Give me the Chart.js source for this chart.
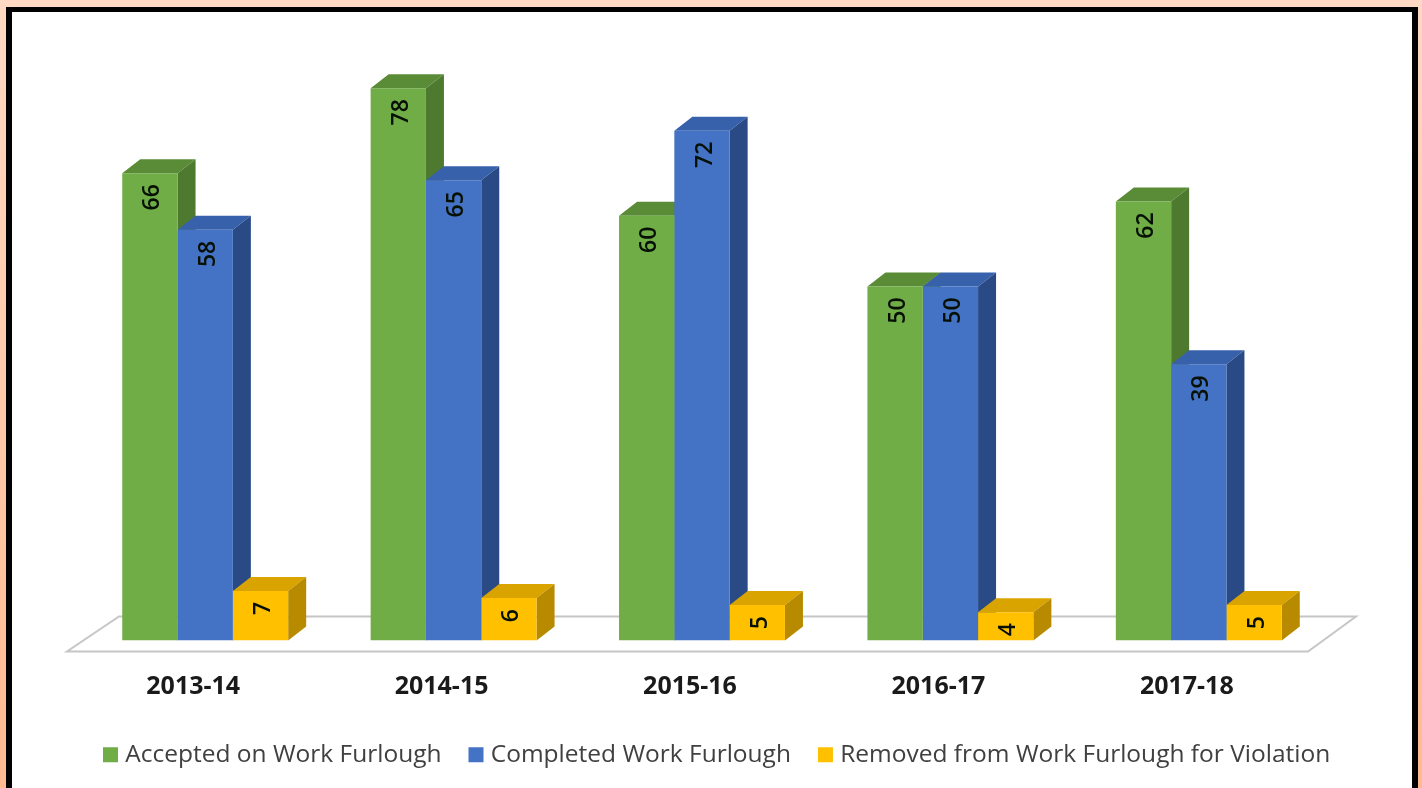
<!DOCTYPE html>
<html>
<head>
<meta charset="utf-8">
<title>Work Furlough</title>
<script src="https://cdn.jsdelivr.net/npm/chart.js@4"></script>
<style>
    html, body { margin: 0; height: 100%; overflow: hidden; }
    body { background: linear-gradient(#ffd9c4, #ffba90); }
    #frame {
        position: absolute; left: 6px; top: 7px; width: 1400px; height: 781px;
        background: #fff; border: solid #000; border-width: 5px 6px 0 6px;
    }
    #chart { position: absolute; left: 0; top: 0; filter: blur(0.5px); }
</style>
</head>
<body>
<div id="frame"></div>
<canvas id="chart" width="1422" height="788"></canvas>
<script>
const years = ['2013-14', '2014-15', '2015-16', '2016-17', '2017-18'];
const accepted = [66, 78, 60, 50, 62];
const completed = [58, 65, 72, 50, 39];
const removed = [7, 6, 5, 4, 5];

// front, top and side face of each series
const faces = [
    { front: '#70ad47', top: '#5a8c38', side: '#4e7a30' },
    { front: '#4472c4', top: '#3761ab', side: '#2a4a85' },
    { front: '#ffc000', top: '#d9a300', side: '#b88a00' }
];
const depthX = 18;
const depthY = 14;

// Floor and the top/side faces go under the bars Chart.js draws
const extrude = {
    id: 'extrude',
    beforeDatasetsDraw(chart) {
        const { ctx, chartArea: area } = chart;
        const base = chart.scales.y.getPixelForValue(0);

        ctx.save();
        ctx.strokeStyle = '#c6c6c6';
        ctx.lineWidth = 2;
        ctx.beginPath();
        ctx.moveTo(area.left - 14, base + 11);
        ctx.lineTo(area.right - 15, base + 11);
        ctx.lineTo(area.right + 33, base - 24);
        ctx.lineTo(area.left + 38, base - 24);
        ctx.closePath();
        ctx.stroke();

        years.forEach((year, i) => {
            faces.forEach((face, d) => {
                const bar = chart.getDatasetMeta(d).data[i];
                const half = bar.width / 2;
                const left = bar.x - half;
                const right = bar.x + half;

                ctx.fillStyle = face.top;
                ctx.beginPath();
                ctx.moveTo(left, bar.y);
                ctx.lineTo(left + depthX, bar.y - depthY);
                ctx.lineTo(right + depthX, bar.y - depthY);
                ctx.lineTo(right, bar.y);
                ctx.fill();

                ctx.fillStyle = face.side;
                ctx.beginPath();
                ctx.moveTo(right, bar.y);
                ctx.lineTo(right + depthX, bar.y - depthY);
                ctx.lineTo(right + depthX, base - depthY);
                ctx.lineTo(right, base);
                ctx.fill();
            });
        });
        ctx.restore();
    },
    afterDatasetsDraw(chart) {
        const { ctx } = chart;
        ctx.save();
        ctx.fillStyle = '#061004';
        ctx.font = '600 23px "Open Sans"';
        ctx.textAlign = 'right';
        ctx.textBaseline = 'middle';
        chart.data.datasets.forEach((set, d) => {
            chart.getDatasetMeta(d).data.forEach((bar, i) => {
                ctx.save();
                ctx.translate(bar.x + 3, bar.y + 11);
                ctx.rotate(-Math.PI / 2);
                ctx.fillText(set.data[i], 0, 0);
                ctx.restore();
            });
        });
        ctx.restore();
    },
    // legend sits off-centre and higher in the original
    afterLayout(chart) {
        chart.legend.left = 76;
        chart.legend.top -= 14;
    }
};

new Chart(document.getElementById('chart'), {
    type: 'bar',
    data: {
        labels: years,
        datasets: [
            { label: 'Accepted on Work Furlough', data: accepted, backgroundColor: faces[0].front },
            { label: 'Completed Work Furlough', data: completed, backgroundColor: faces[1].front },
            { label: 'Removed from Work Furlough for Violation', data: removed, backgroundColor: faces[2].front }
        ]
    },
    options: {
        responsive: false,
        animation: false,
        categoryPercentage: 0.668,
        barPercentage: 1,
        layout: { padding: { left: 0, right: 0, top: 74, bottom: -3 } },
        scales: {
            x: {
                grid: { display: false },
                border: { display: false },
                ticks: {
                    color: '#1a1a1a',
                    font: { family: 'Open Sans', size: 25, weight: 'bold' },
                    padding: 23,
                    labelOffset: -12,
                    maxRotation: 0
                }
            },
            // both y axes are invisible, they only hold the plot area in place
            y: {
                min: 0,
                max: 80,
                grid: { display: false },
                border: { display: false },
                ticks: { display: false },
                afterFit(scale) { scale.width = 81; }
            },
            yRight: {
                position: 'right',
                grid: { display: false },
                border: { display: false },
                ticks: { display: false },
                afterFit(scale) { scale.width = 99; }
            }
        },
        plugins: {
            tooltip: { enabled: false },
            legend: {
                position: 'bottom',
                align: 'start',
                labels: {
                    color: '#404040',
                    font: { family: 'Open Sans', size: 24.5 },
                    usePointStyle: true,
                    pointStyle: 'rect',
                    boxWidth: 5,
                    boxHeight: 15,
                    padding: 32
                }
            }
        }
    },
    plugins: [extrude]
});
</script>
</body>
</html>
